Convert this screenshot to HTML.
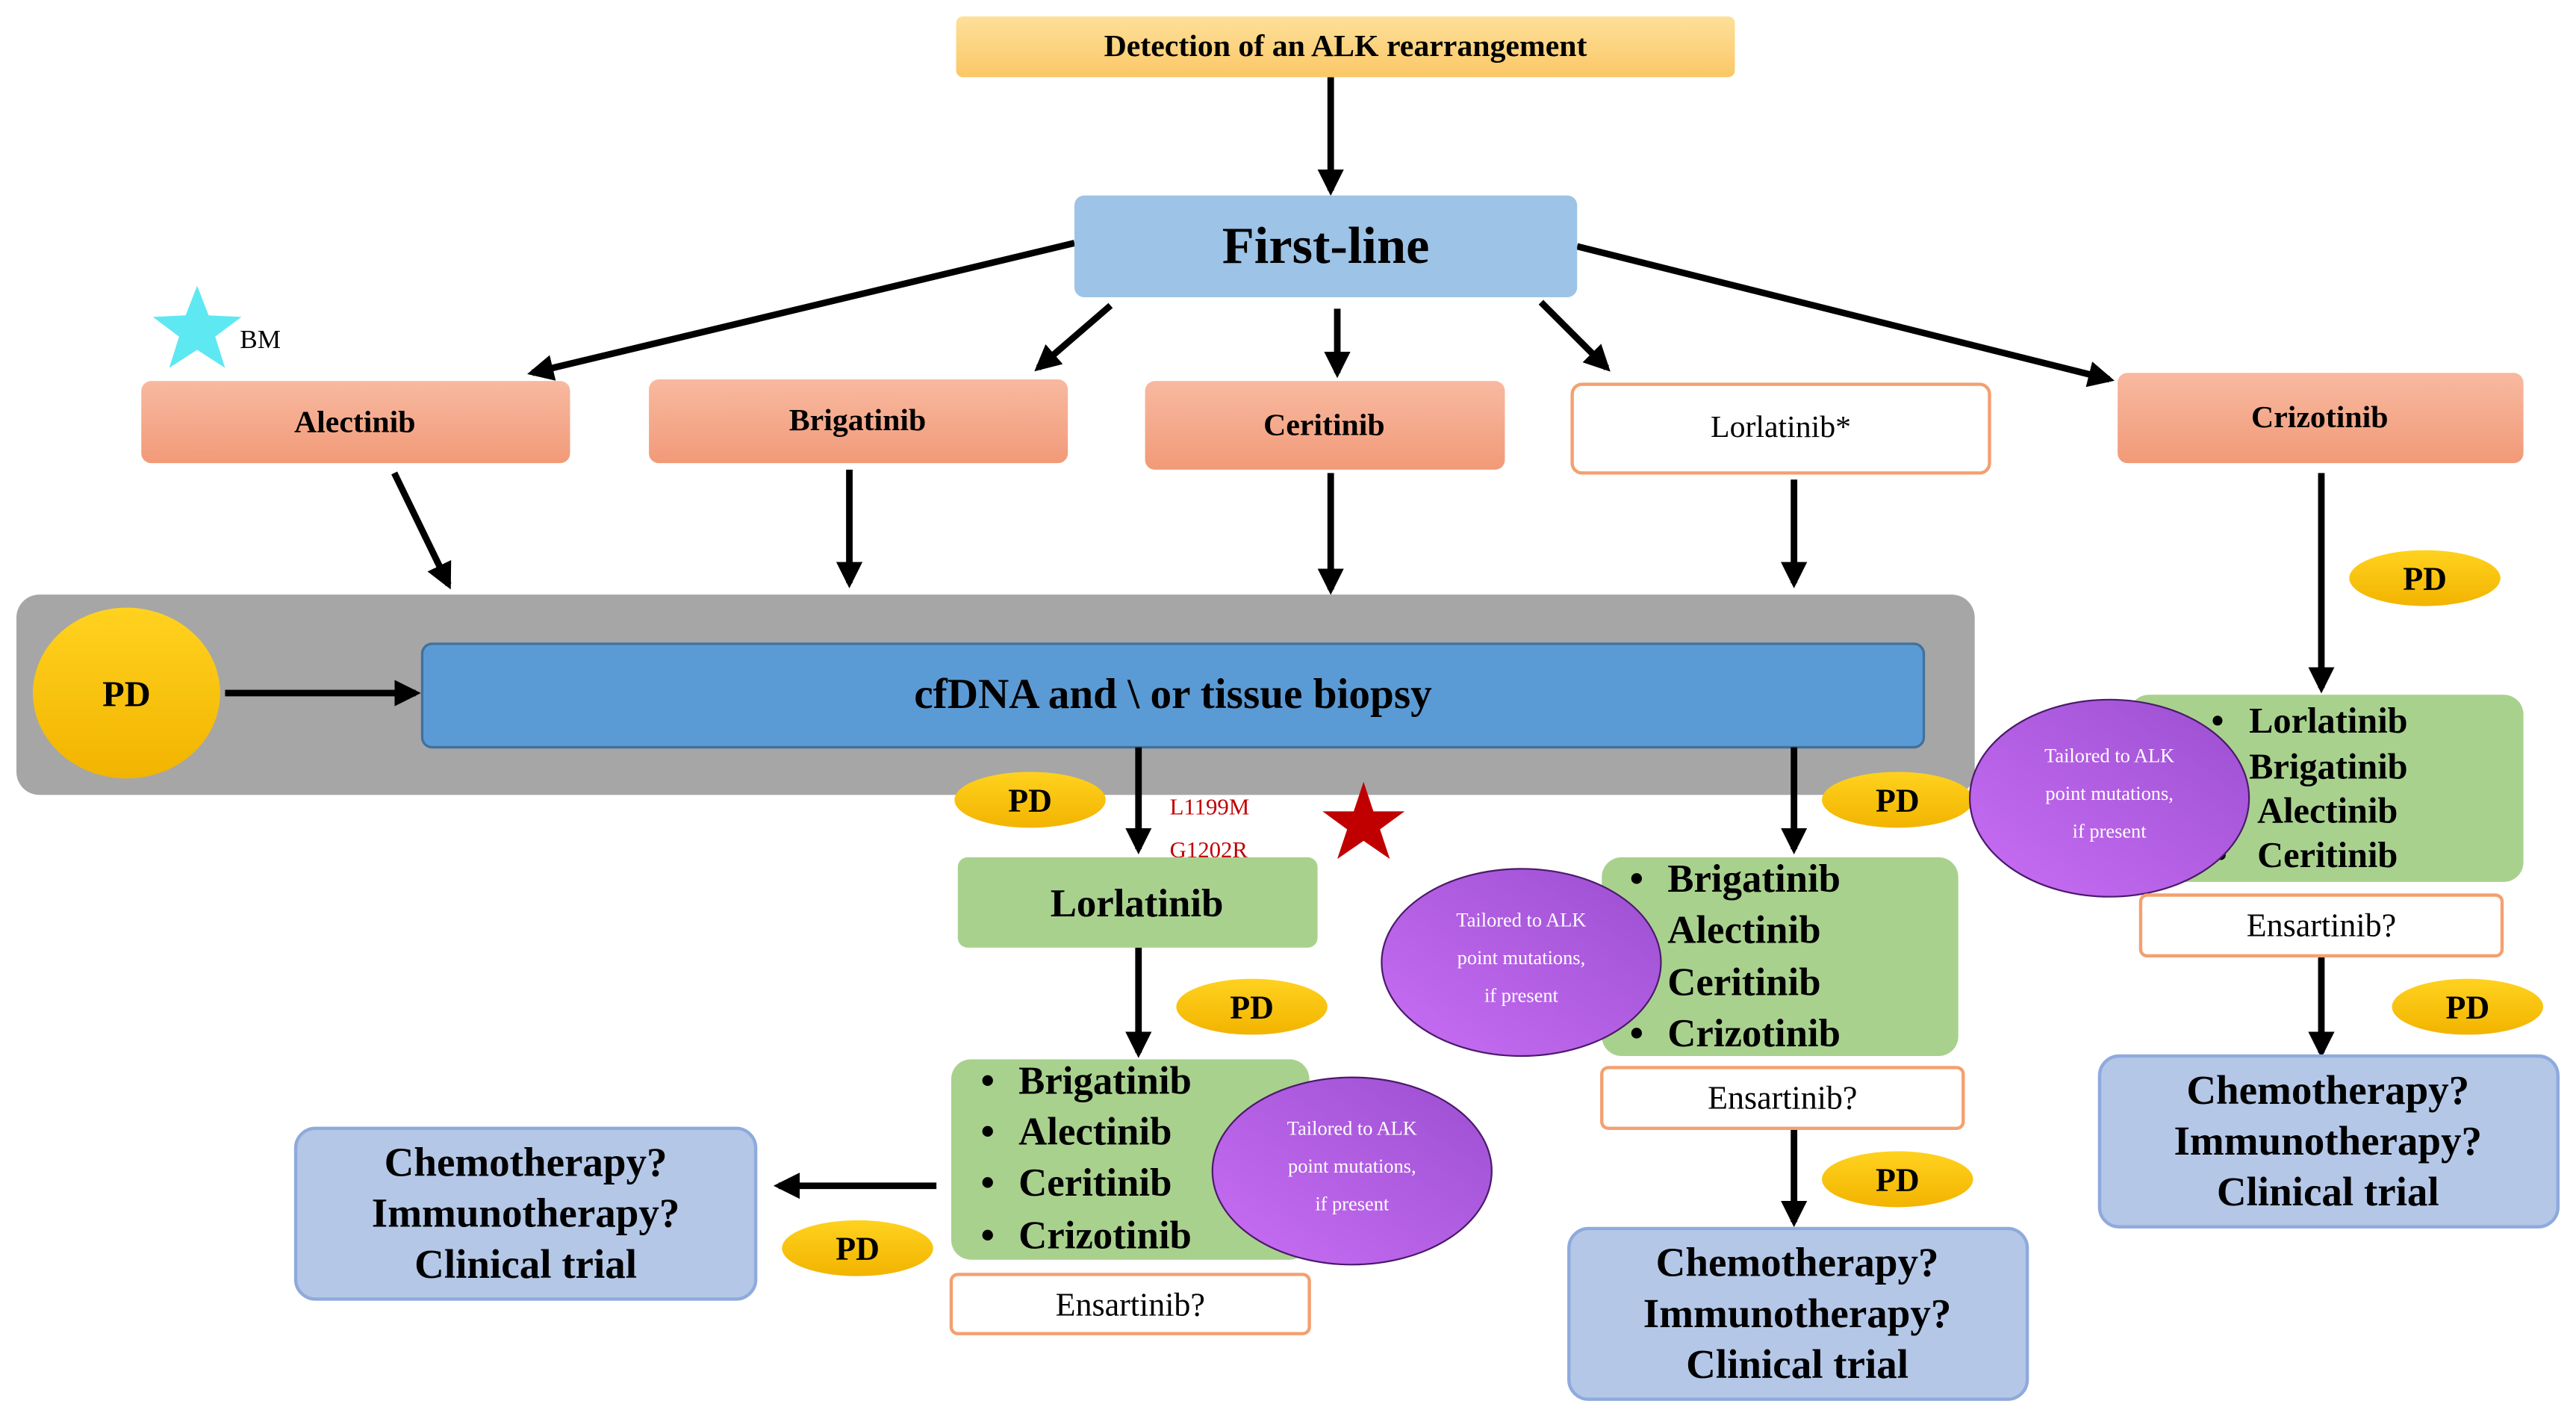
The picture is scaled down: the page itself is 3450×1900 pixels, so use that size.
<!DOCTYPE html>
<html><head><meta charset="utf-8"><style>html,body{margin:0;padding:0;background:#fff;overflow:hidden}svg{display:block}svg text{font-family:"Liberation Serif",serif}</style></head>
<body>
<svg width="3450" height="1900" viewBox="0 0 1568 864" preserveAspectRatio="none" xmlns="http://www.w3.org/2000/svg" font-family="'Liberation Serif', serif" font-weight="bold">
<defs>
<marker id="a" viewBox="0 0 10 10" refX="8" refY="5" markerWidth="4" markerHeight="4" orient="auto"><path d="M0,0 L10,5 L0,10 z" fill="#000"/></marker>
<linearGradient id="sal" x1="0" y1="0" x2="0" y2="1"><stop offset="0" stop-color="#f8b9a0"/><stop offset="1" stop-color="#f19a78"/></linearGradient>
<linearGradient id="yel" x1="0" y1="0" x2="0" y2="1"><stop offset="0" stop-color="#fde09a"/><stop offset="1" stop-color="#fbc766"/></linearGradient>
<linearGradient id="pd" x1="0" y1="0" x2="0" y2="1"><stop offset="0" stop-color="#ffd21f"/><stop offset="1" stop-color="#f2b400"/></linearGradient>
<linearGradient id="pur" x1="1" y1="0" x2="0" y2="1"><stop offset="0" stop-color="#9b4fd0"/><stop offset="1" stop-color="#c96ef5"/></linearGradient>
</defs>
<g stroke="#000" stroke-width="4" fill="none" marker-end="url(#a)">
<line x1="810" y1="47" x2="810" y2="116"/>
<line x1="654" y1="148" x2="324" y2="227"/>
<line x1="676" y1="186" x2="632" y2="224"/>
<line x1="814" y1="188" x2="814" y2="227"/>
<line x1="938" y1="184" x2="978" y2="224"/>
<line x1="960" y1="150" x2="1284" y2="231"/>
<line x1="240" y1="288" x2="273" y2="356"/>
<line x1="517" y1="286" x2="517" y2="355"/>
<line x1="810" y1="288" x2="810" y2="359"/>
<line x1="1092" y1="292" x2="1092" y2="355"/>
<line x1="1413" y1="288" x2="1413" y2="419"/>
</g>
<rect x="582" y="10" width="474" height="37" rx="4" fill="url(#yel)"/>
<text x="819" y="34" font-size="19" text-anchor="middle">Detection of an ALK rearrangement</text>
<rect x="654" y="119" width="306" height="62" rx="6" fill="#9dc3e6"/>
<text x="807" y="160" font-size="32" text-anchor="middle">First-line</text>
<rect x="86" y="232" width="261" height="50" rx="6" fill="url(#sal)"/>
<text x="216" y="263" font-size="19" text-anchor="middle">Alectinib</text>
<rect x="395" y="231" width="255" height="51" rx="6" fill="url(#sal)"/>
<text x="522" y="262" font-size="19" text-anchor="middle">Brigatinib</text>
<rect x="697" y="232" width="219" height="54" rx="6" fill="url(#sal)"/>
<text x="806" y="265" font-size="19" text-anchor="middle">Ceritinib</text>
<rect x="957" y="234" width="254" height="54" rx="6" fill="#fff" stroke="#f4a070" stroke-width="2"/>
<text x="1084" y="266" font-size="19" font-weight="normal" text-anchor="middle">Lorlatinib*</text>
<rect x="1289" y="227" width="247" height="55" rx="6" fill="url(#sal)"/>
<text x="1412" y="260" font-size="19" text-anchor="middle">Crizotinib</text>
<polygon points="120,174 127,192 147,193 131,205 137,224 120,213 103,224 109,205 93,193 113,192" fill="#5ee8f2"/>
<text x="146" y="212" font-size="16" font-weight="normal">BM</text>
<rect x="10" y="362" width="1192" height="122" rx="14" fill="#a6a6a6"/>
<ellipse cx="77" cy="422" rx="57" ry="52" fill="url(#pd)"/>
<text x="77" y="430" font-size="22" text-anchor="middle">PD</text>
<line x1="137" y1="422" x2="253" y2="422" stroke="#000" stroke-width="4" marker-end="url(#a)"/>
<rect x="257" y="392" width="914" height="63" rx="6" fill="#5b9bd5" stroke="#41719c" stroke-width="1.5"/>
<text x="714" y="431" font-size="26" text-anchor="middle">cfDNA and \ or tissue biopsy</text>
<g stroke="#000" stroke-width="4" fill="none" marker-end="url(#a)">
<line x1="693" y1="455" x2="693" y2="517"/>
<line x1="693" y1="577" x2="693" y2="641"/>
<line x1="570" y1="722" x2="474" y2="722"/>
<line x1="1092" y1="455" x2="1092" y2="517"/>
<line x1="1092" y1="687" x2="1092" y2="744"/>
<line x1="1413" y1="582" x2="1413" y2="641"/>
</g>
<g font-size="20" text-anchor="middle">
<ellipse cx="627" cy="487" rx="46" ry="17" fill="url(#pd)"/><text x="627" y="494">PD</text>
<ellipse cx="762" cy="613" rx="46" ry="17" fill="url(#pd)"/><text x="762" y="620">PD</text>
<ellipse cx="522" cy="760" rx="46" ry="17" fill="url(#pd)"/><text x="522" y="767">PD</text>
<ellipse cx="1155" cy="487" rx="46" ry="17" fill="url(#pd)"/><text x="1155" y="494">PD</text>
<ellipse cx="1155" cy="718" rx="46" ry="17" fill="url(#pd)"/><text x="1155" y="725">PD</text>
<ellipse cx="1476" cy="352" rx="46" ry="17" fill="url(#pd)"/><text x="1476" y="359">PD</text>
<ellipse cx="1502" cy="613" rx="46" ry="17" fill="url(#pd)"/><text x="1502" y="620">PD</text>
</g>
<text x="712" y="496" font-size="14" font-weight="normal" fill="#c00000">L1199M</text>
<text x="712" y="522" font-size="14" font-weight="normal" fill="#c00000">G1202R</text>
<polygon points="830,476 836,494 855,494 840,505 846,523 830,512 814,523 820,505 805,494 824,494" fill="#c00000"/>
<rect x="583" y="522" width="219" height="55" rx="6" fill="#a9d18e"/>
<text x="692" y="558" font-size="24" text-anchor="middle">Lorlatinib</text>
<rect x="579" y="645" width="218" height="122" rx="12" fill="#a9d18e"/>
<g font-size="24"><text x="597" y="666">•</text><text x="620" y="666">Brigatinib</text>
<text x="597" y="697">•</text><text x="620" y="697">Alectinib</text>
<text x="597" y="728">•</text><text x="620" y="728">Ceritinib</text>
<text x="597" y="760">•</text><text x="620" y="760">Crizotinib</text></g>
<ellipse cx="823" cy="713" rx="85" ry="57" fill="url(#pur)" stroke="#4b1a6b" stroke-width="1"/>
<g font-size="12" font-weight="normal" fill="#fff" text-anchor="middle"><text x="823" y="691">Tailored to ALK</text><text x="823" y="714">point mutations,</text><text x="823" y="737">if present</text></g>
<rect x="579" y="776" width="218" height="36" rx="4" fill="#fff" stroke="#f4a070" stroke-width="2"/>
<text x="688" y="801" font-size="20" font-weight="normal" text-anchor="middle">Ensartinib?</text>
<rect x="180" y="687" width="280" height="104" rx="12" fill="#b4c7e7" stroke="#8faadc" stroke-width="2"/>
<g font-size="25" text-anchor="middle"><text x="320" y="716">Chemotherapy?</text><text x="320" y="747">Immunotherapy?</text><text x="320" y="778">Clinical trial</text></g>
<rect x="975" y="522" width="217" height="121" rx="12" fill="#a9d18e"/>
<g font-size="24"><text x="992" y="543">•</text><text x="1015" y="543">Brigatinib</text>
<text x="1015" y="574">Alectinib</text><text x="1015" y="606">Ceritinib</text>
<text x="992" y="637">•</text><text x="1015" y="637">Crizotinib</text></g>
<ellipse cx="926" cy="586" rx="85" ry="57" fill="url(#pur)" stroke="#4b1a6b" stroke-width="1"/>
<g font-size="12" font-weight="normal" fill="#fff" text-anchor="middle"><text x="926" y="564">Tailored to ALK</text><text x="926" y="587">point mutations,</text><text x="926" y="610">if present</text></g>
<rect x="975" y="650" width="220" height="37" rx="4" fill="#fff" stroke="#f4a070" stroke-width="2"/>
<text x="1085" y="675" font-size="20" font-weight="normal" text-anchor="middle">Ensartinib?</text>
<rect x="955" y="748" width="279" height="104" rx="12" fill="#b4c7e7" stroke="#8faadc" stroke-width="2"/>
<g font-size="25" text-anchor="middle"><text x="1094" y="777">Chemotherapy?</text><text x="1094" y="808">Immunotherapy?</text><text x="1094" y="839">Clinical trial</text></g>
<rect x="1296" y="423" width="240" height="114" rx="12" fill="#a9d18e"/>
<g font-size="22"><text x="1346" y="446">•</text><text x="1369" y="446">Lorlatinib</text>
<text x="1369" y="474">Brigatinib</text><text x="1374" y="501">Alectinib</text>
<text x="1348" y="528">•</text><text x="1374" y="528">Ceritinib</text></g>
<ellipse cx="1284" cy="486" rx="85" ry="60" fill="url(#pur)" stroke="#4b1a6b" stroke-width="1"/>
<g font-size="12" font-weight="normal" fill="#fff" text-anchor="middle"><text x="1284" y="464">Tailored to ALK</text><text x="1284" y="487">point mutations,</text><text x="1284" y="510">if present</text></g>
<rect x="1303" y="545" width="220" height="37" rx="4" fill="#fff" stroke="#f4a070" stroke-width="2"/>
<text x="1413" y="570" font-size="20" font-weight="normal" text-anchor="middle">Ensartinib?</text>
<rect x="1278" y="643" width="279" height="104" rx="12" fill="#b4c7e7" stroke="#8faadc" stroke-width="2"/>
<g font-size="25" text-anchor="middle"><text x="1417" y="672">Chemotherapy?</text><text x="1417" y="703">Immunotherapy?</text><text x="1417" y="734">Clinical trial</text></g>
</svg>
</body></html>
